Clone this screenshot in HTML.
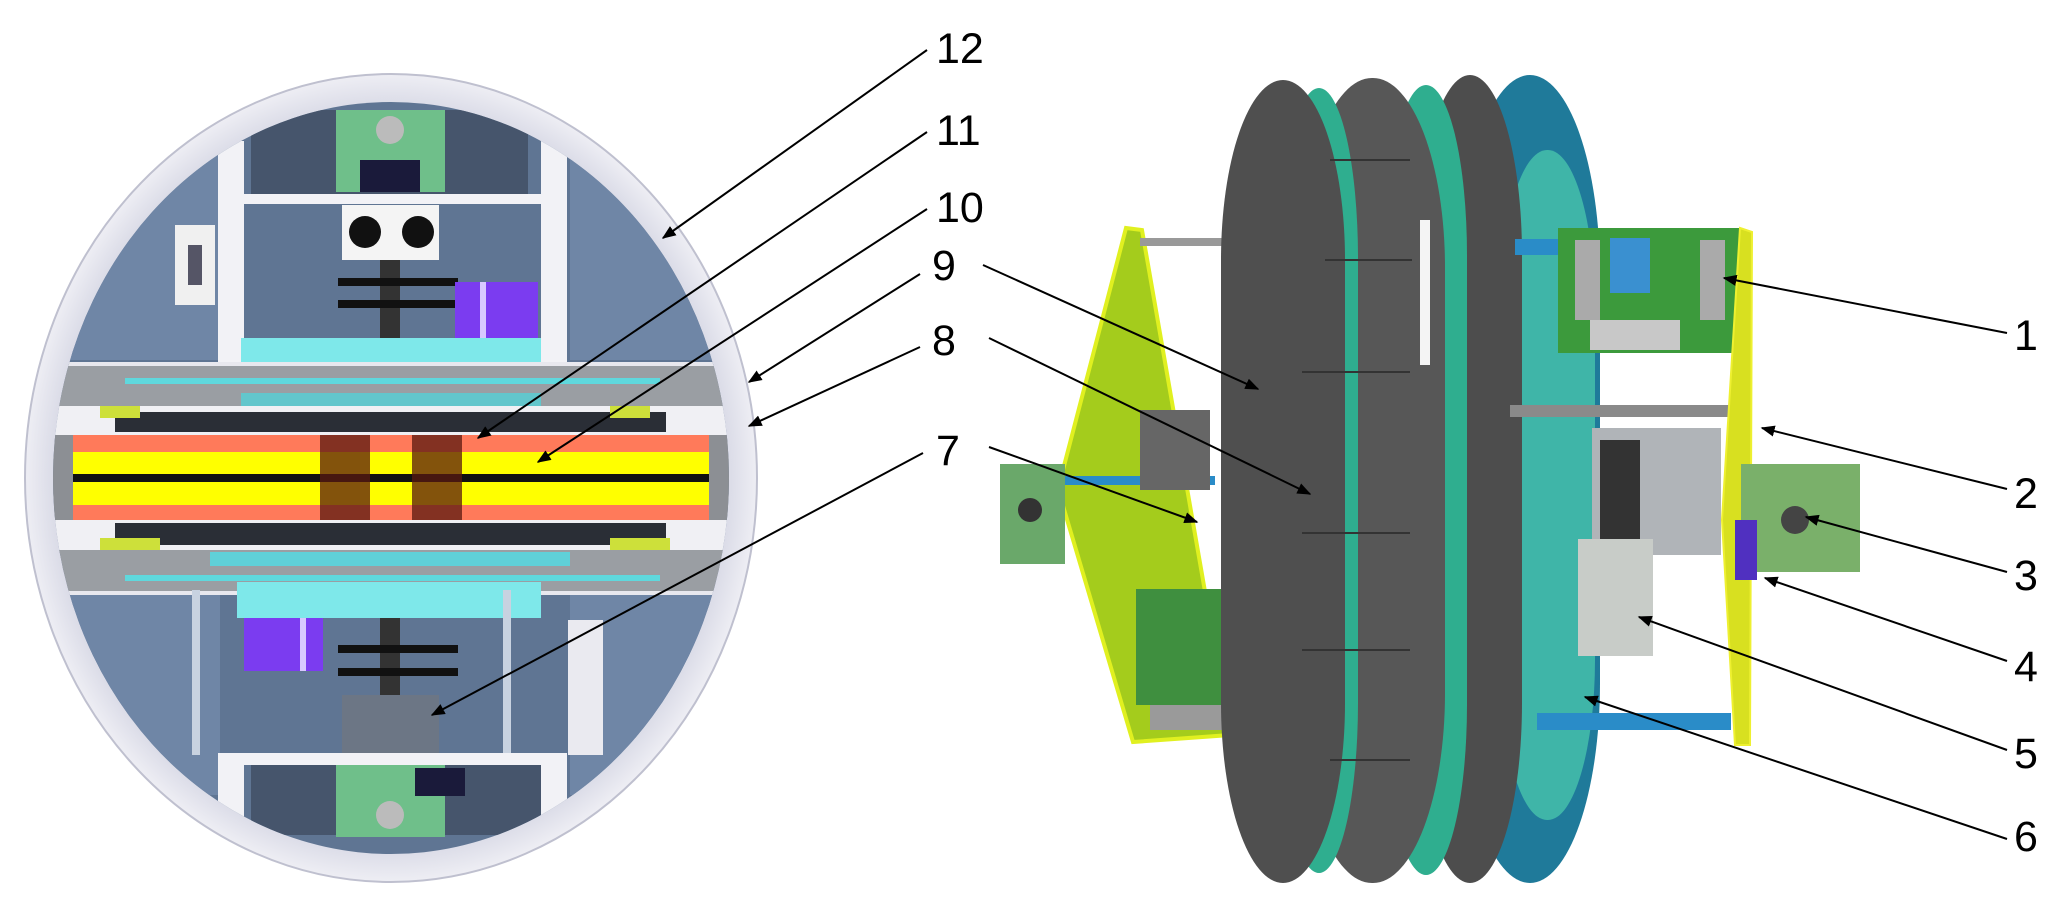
<!DOCTYPE html>
<html><head><meta charset="utf-8"><style>
html,body{margin:0;padding:0;background:#fff;}
svg{display:block;}
text{font-family:"Liberation Sans",sans-serif;font-size:43px;fill:#000;}
</style></head><body>
<svg width="2067" height="921" viewBox="0 0 2067 921" xmlns="http://www.w3.org/2000/svg">
<defs>
<marker id="ah" viewBox="0 0 10 10" refX="9" refY="5" markerWidth="7" markerHeight="7" orient="auto"><path d="M0,1 L10,5 L0,9 z" fill="#000"/></marker>
<clipPath id="inner"><ellipse cx="391" cy="478" rx="338" ry="376"/></clipPath>
<radialGradient id="shell" cx="0.5" cy="0.5" r="0.5"><stop offset="0.85" stop-color="#c8cadb"/><stop offset="1" stop-color="#eeeef4"/></radialGradient>
</defs>
<!-- LEFT SPHERE -->
<ellipse cx="391" cy="478" rx="366" ry="404" fill="url(#shell)" stroke="#bfc0cf" stroke-width="2"/>
<g clip-path="url(#inner)">
<rect x="0" y="60" width="800" height="840" fill="#5f7593"/>
<rect x="60" y="150" width="160" height="210" fill="#6f86a6"/>
<rect x="570" y="150" width="170" height="210" fill="#6f86a6"/>
<rect x="60" y="595" width="160" height="200" fill="#6f86a6"/>
<rect x="570" y="595" width="170" height="200" fill="#6f86a6"/>
<rect x="251" y="110" width="277" height="84" fill="#46556c"/>
<rect x="336" y="110" width="109" height="82" fill="#6fbf8a"/>
<circle cx="390" cy="130" r="14" fill="#bbb"/><rect x="360" y="160" width="60" height="32" fill="#1a1a3a"/>
<rect x="218" y="141" width="26" height="221" fill="#f2f2f6"/>
<rect x="541" y="141" width="26" height="221" fill="#f2f2f6"/>
<rect x="218" y="194" width="349" height="10" fill="#f2f2f6"/>
<rect x="342" y="205" width="97" height="55" fill="#f4f4f4"/>
<circle cx="365" cy="232" r="16" fill="#111"/><circle cx="418" cy="232" r="16" fill="#111"/>
<rect x="380" y="260" width="20" height="80" fill="#333"/>
<rect x="338" y="278" width="120" height="8" fill="#111"/><rect x="338" y="300" width="120" height="8" fill="#111"/>
<rect x="455" y="282" width="83" height="56" fill="#7b3cf0"/><rect x="480" y="282" width="6" height="56" fill="#d8c8ff"/>
<rect x="175" y="225" width="40" height="80" fill="#f0f0f0"/><rect x="188" y="245" width="14" height="40" fill="#556"/>
<rect x="241" y="338" width="300" height="44" fill="#7ee8ea"/>
<rect x="20" y="362" width="760" height="44" fill="#9a9ea3"/>
<rect x="20" y="362" width="760" height="4" fill="#e8e8ee"/>
<rect x="125" y="378" width="535" height="6" fill="#5fd8dd"/>
<rect x="241" y="393" width="300" height="13" fill="#62c6cc"/>
<rect x="0" y="406" width="800" height="29" fill="#f0f0f4"/>
<rect x="115" y="412" width="551" height="20" fill="#2a2e36"/>
<rect x="100" y="406" width="40" height="12" fill="#cde03a"/><rect x="610" y="406" width="40" height="12" fill="#cde03a"/>
<rect x="26" y="435" width="47" height="85" fill="#8c8f94"/>
<rect x="709" y="435" width="46" height="85" fill="#8c8f94"/>
<rect x="73" y="435" width="636" height="17" fill="#ff7a5a"/>
<rect x="73" y="452" width="636" height="22" fill="#ffff00"/>
<rect x="73" y="474" width="636" height="8" fill="#111"/>
<rect x="73" y="482" width="636" height="23" fill="#ffff00"/>
<rect x="73" y="505" width="636" height="15" fill="#ff7a5a"/>
<rect x="320" y="435" width="50" height="85" fill="#5a1a10" opacity="0.75"/>
<rect x="412" y="435" width="50" height="85" fill="#5a1a10" opacity="0.75"/>
<rect x="0" y="520" width="800" height="30" fill="#f0f0f4"/>
<rect x="115" y="523" width="551" height="22" fill="#2a2e36"/>
<rect x="100" y="538" width="60" height="12" fill="#cde03a"/><rect x="610" y="538" width="60" height="12" fill="#cde03a"/>
<rect x="20" y="550" width="760" height="41" fill="#9a9ea3"/>
<rect x="210" y="552" width="360" height="14" fill="#5fd0d8"/>
<rect x="125" y="575" width="535" height="6" fill="#5fd8dd"/>
<rect x="20" y="591" width="760" height="4" fill="#e8e8ee"/>
<rect x="237" y="582" width="304" height="36" fill="#7ee8ea"/>
<rect x="244" y="618" width="79" height="53" fill="#7b3cf0"/><rect x="300" y="618" width="6" height="53" fill="#d8c8ff"/>
<rect x="380" y="618" width="20" height="80" fill="#333"/>
<rect x="338" y="645" width="120" height="8" fill="#111"/><rect x="338" y="668" width="120" height="8" fill="#111"/>
<rect x="342" y="695" width="97" height="58" fill="#6c7685"/>
<rect x="192" y="590" width="8" height="165" fill="#c8d2e0"/>
<rect x="503" y="590" width="8" height="165" fill="#c8d2e0"/>
<rect x="568" y="620" width="35" height="135" fill="#eaeaf0"/>
<rect x="218" y="753" width="349" height="12" fill="#f2f2f6"/>
<rect x="218" y="765" width="26" height="100" fill="#f2f2f6"/>
<rect x="541" y="765" width="26" height="100" fill="#f2f2f6"/>
<rect x="251" y="765" width="290" height="70" fill="#46556c"/>
<rect x="336" y="765" width="109" height="72" fill="#6fbf8a"/>
<circle cx="390" cy="815" r="14" fill="#bbb"/><rect x="415" y="768" width="50" height="28" fill="#1a1a3a"/>
</g>
<!-- RIGHT OBJECT -->
<polygon points="1126,228 1142,230 1230,735 1133,742 1058,489" fill="#a4cc1c" stroke="#e0f020" stroke-width="4"/>
<rect x="1140" y="238" width="90" height="8" fill="#999"/>
<rect x="1065" y="476" width="150" height="9" fill="#2a8cc8"/>
<rect x="1000" y="464" width="65" height="100" fill="#6aa86a"/>
<circle cx="1030" cy="510" r="12" fill="#333"/>
<rect x="1136" y="589" width="89" height="116" fill="#3f8f3f"/>
<rect x="1150" y="705" width="80" height="25" fill="#9a9a9a"/>
<rect x="1140" y="410" width="70" height="80" fill="#666"/>
<!-- disc and tires -->
<rect x="1460" y="75" width="140" height="808" rx="70" ry="200" fill="#1f7a9a"/>
<rect x="1500" y="150" width="95" height="670" rx="47" ry="160" fill="#3fb5a8"/>
<rect x="1418" y="75" width="104" height="808" rx="52" ry="180" fill="#4d4d4d"/>
<rect x="1385" y="85" width="82" height="790" rx="41" ry="170" fill="#2fae8f"/>
<rect x="1300" y="78" width="145" height="805" rx="72" ry="190" fill="#575757"/>
<rect x="1280" y="88" width="78" height="785" rx="39" ry="170" fill="#2fae8f"/>
<rect x="1294" y="267" width="12" height="145" fill="#f4f4f4"/>
<rect x="1420" y="220" width="10" height="145" fill="#f4f4f4"/>
<rect x="1221" y="80" width="124" height="803" rx="62" ry="180" fill="#4f4f4f"/>
<g stroke="#333" stroke-width="2">
<line x1="1330" y1="160" x2="1410" y2="160"/><line x1="1325" y1="260" x2="1412" y2="260"/>
<line x1="1302" y1="372" x2="1410" y2="372"/><line x1="1302" y1="533" x2="1410" y2="533"/>
<line x1="1302" y1="650" x2="1410" y2="650"/><line x1="1330" y1="760" x2="1410" y2="760"/>
</g>
<!-- right side components -->
<rect x="1515" y="239" width="45" height="16" fill="#2a8cc8"/>
<rect x="1558" y="228" width="183" height="125" fill="#3c9a3c"/>
<rect x="1610" y="238" width="40" height="55" fill="#3a90d0"/>
<rect x="1575" y="240" width="25" height="80" fill="#aaa"/><rect x="1700" y="240" width="25" height="80" fill="#aaa"/>
<rect x="1590" y="320" width="90" height="30" fill="#c8c8c8"/>
<rect x="1510" y="405" width="225" height="12" fill="#8a8a8a"/>
<rect x="1592" y="428" width="129" height="127" fill="#b0b4b8"/>
<rect x="1600" y="440" width="40" height="100" fill="#333"/>
<rect x="1578" y="539" width="75" height="117" fill="#c8ccc8"/>
<rect x="1537" y="713" width="194" height="17" fill="#2a8cc8"/>
<polygon points="1740,228 1752,232 1750,745 1735,745 1722,520" fill="#d8e020" stroke="#eef030" stroke-width="2"/>
<rect x="1741" y="464" width="119" height="108" fill="#7ab06a"/>
<circle cx="1795" cy="520" r="14" fill="#444"/>
<rect x="1735" y="520" width="22" height="60" fill="#5030c0"/>
<!-- labels -->
<g stroke="#000" stroke-width="2" marker-end="url(#ah)" fill="none">
<line x1="927" y1="50" x2="663" y2="238"/>
<line x1="927" y1="132" x2="478" y2="438"/>
<line x1="927" y1="209" x2="538" y2="462"/>
<line x1="920" y1="274" x2="749" y2="382"/>
<line x1="920" y1="347" x2="749" y2="426"/>
<line x1="923" y1="453" x2="432" y2="715"/>
<line x1="983" y1="265" x2="1258" y2="389"/>
<line x1="989" y1="338" x2="1310" y2="494"/>
<line x1="989" y1="447" x2="1197" y2="522"/>
<line x1="2007" y1="333" x2="1724" y2="278"/>
<line x1="2007" y1="489" x2="1762" y2="428"/>
<line x1="2007" y1="572" x2="1806" y2="517"/>
<line x1="2007" y1="661" x2="1765" y2="578"/>
<line x1="2007" y1="750" x2="1639" y2="617"/>
<line x1="2007" y1="839" x2="1585" y2="697"/>
</g>
<text x="936" y="63">12</text>
<text x="936" y="145">11</text>
<text x="936" y="222">10</text>
<text x="932" y="280">9</text>
<text x="932" y="355">8</text>
<text x="936" y="465">7</text>
<text x="2014" y="350">1</text>
<text x="2014" y="508">2</text>
<text x="2014" y="590">3</text>
<text x="2014" y="681">4</text>
<text x="2014" y="768">5</text>
<text x="2014" y="851">6</text>
</svg>
</body></html>
